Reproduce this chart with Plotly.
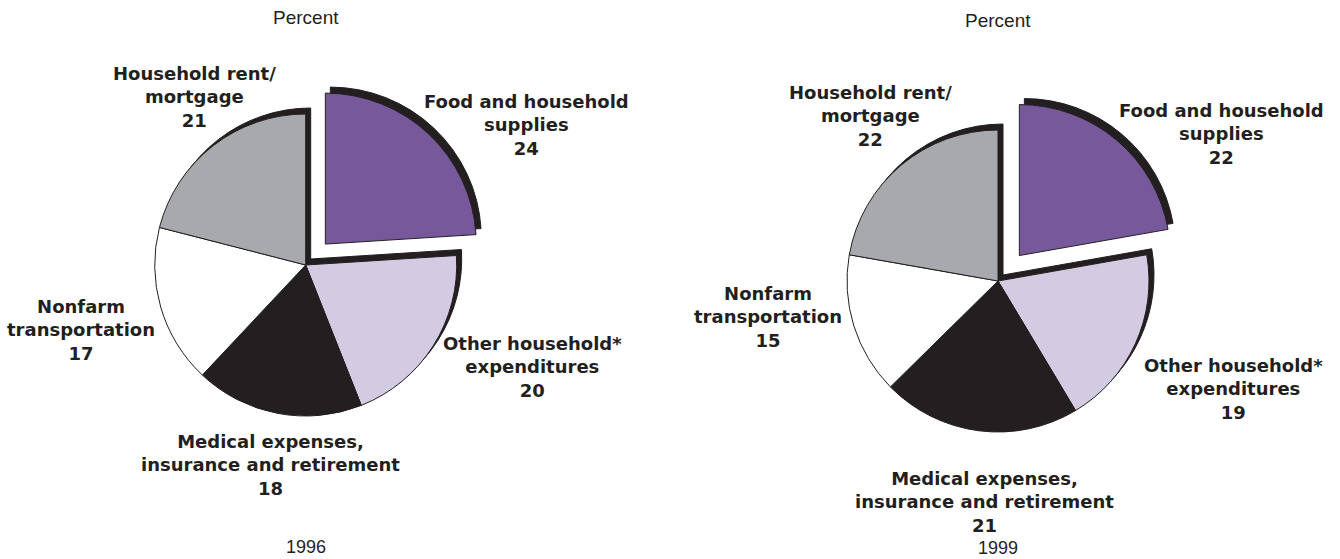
import plotly.graph_objects as go

W, H = 1340, 559

categories = ["Food and household supplies", "Other household* expenditures",
              "Medical expenses, insurance and retirement", "Nonfarm transportation",
              "Household rent/ mortgage"]
label_lines = ["Food and household<br>supplies", "Other household*<br>expenditures",
               "Medical expenses,<br>insurance and retirement", "Nonfarm<br>transportation",
               "Household rent/<br>mortgage"]
values_1996 = [24, 20, 18, 17, 21]
values_1999 = [22, 19, 21, 15, 22]
years = ["1996", "1999"]
colors = ["#77589b", "#d3cbe1", "#231f20", "#ffffff", "#a7a9ac"]
pulls = [0.19, 0.22]

# pie geometry in pixels: centre x, centre y (from top), radius
geom = [(305.7, 265.0, 151.0), (998.0, 281.0, 151.0)]
shadow_dx, shadow_dy = 5, 6

# label positions (pixel centre x, centre y of middle line) per pie, per category
label_pos = [
    [(526, 125), (532, 367), (270, 465), (81, 330), (194, 97.5)],
    [(1221, 134), (1233, 389), (985, 502), (768, 317), (870, 116.5)],
]
title_y = [17.5, 20]
year_y = [547, 548]

BOLD = "DejaVu Sans, Arial, sans-serif"
REG = "Liberation Sans, Arial, sans-serif"

fig = go.Figure()

def domain(cx, cy, r, pull, dx=0, dy=0):
    half = r * (1 + pull)
    yb = H - cy + dy
    return dict(x=[(cx - half + dx) / W, (cx + half + dx) / W],
                y=[(yb - half) / H, (yb + half) / H])

for i, vals in enumerate([values_1996, values_1999]):
    cx, cy, r = geom[i]
    pull = [pulls[i]] + [0] * (len(vals) - 1)
    # drop shadow (black copy offset up-right)
    fig.add_trace(go.Pie(
        values=vals, labels=categories, sort=False, direction="clockwise",
        rotation=0, pull=pull, textinfo="none", hoverinfo="skip",
        marker=dict(colors=["#231f20"] * len(vals), line=dict(color="#231f20", width=1)),
        domain=domain(cx, cy, r, pulls[i], shadow_dx, shadow_dy), showlegend=False,
    ))
    fig.add_trace(go.Pie(
        values=vals, labels=categories, sort=False, direction="clockwise",
        rotation=0, pull=pull, textinfo="none", hoverinfo="label+value",
        marker=dict(colors=colors, line=dict(color="#231f20", width=1)),
        domain=domain(cx, cy, r, pulls[i]), showlegend=False,
    ))
    for j, (lx, ly) in enumerate(label_pos[i]):
        fig.add_annotation(
            x=lx / W, y=1 - ly / H, xref="paper", yref="paper",
            xanchor="center", yanchor="middle", showarrow=False, align="center",
            text="<b>" + label_lines[j] + "<br>" + str(vals[j]) + "</b>",
            font=dict(family=BOLD, size=18, color="#231f20"),
        )
    fig.add_annotation(
        x=cx / W, y=1 - title_y[i] / H, xref="paper", yref="paper", xanchor="center",
        yanchor="middle", showarrow=False, text="Percent",
        font=dict(family=REG, size=19, color="#231f20"),
    )
    fig.add_annotation(
        x=cx / W, y=1 - year_y[i] / H, xref="paper", yref="paper", xanchor="center",
        yanchor="middle", showarrow=False, text=years[i],
        font=dict(family=REG, size=18, color="#231f20"),
    )

fig.update_layout(
    width=W, height=H, margin=dict(l=0, r=0, t=0, b=0),
    paper_bgcolor="white", plot_bgcolor="white", showlegend=False,
)

fig.write_html("out.html", config={"displayModeBar": False},
               post_script="document.body.style.margin='0';")
